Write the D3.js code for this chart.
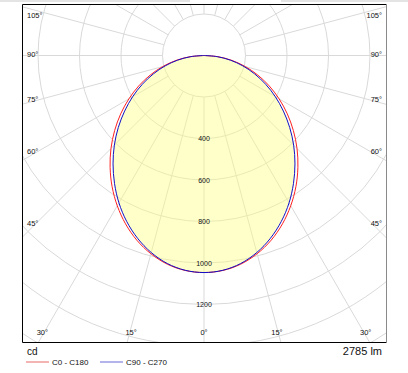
<!DOCTYPE html>
<html>
<head>
<meta charset="utf-8">
<script src="https://cdn.jsdelivr.net/npm/d3@7"></script>
<style>
  body { margin: 0; background: #fff; }
  text { font-family: "Liberation Sans", Arial, sans-serif; fill: #111; }
</style>
</head>
<body>
<div id="chart"></div>
<script>
// gamma angles (deg) and intensities (cd), symmetric halves
var gammas = [0, 5, 10, 15, 20, 25, 30, 35, 40, 45, 50, 55, 60, 65, 70, 75, 80, 85, 90];
var c0c180 = [1046, 1040, 1021, 989, 947, 895, 836, 772, 704, 634, 562, 490, 418, 347, 276, 206, 137, 68, 0];
var c90c270 = [1046, 1039, 1018, 983, 937, 882, 820, 752, 682, 611, 539, 467, 397, 328, 260, 194, 129, 64, 0];
var rings = [200, 400, 600, 800, 1000, 1200, 1400, 1600, 1800];
var ringLabels = [400, 600, 800, 1000, 1200];
var angleLabels = [0, 15, 30, 45, 60, 75, 90, 105];
var flux = "2785 lm";

var width = 408, height = 373;
var cx = 204, cy = 55.5;
var frame = { x0: 22.5, y0: 4.5, x1: 386.5, y1: 342.5 };

var svg = d3.select("#chart").append("svg")
  .attr("width", width)
  .attr("height", height);

// grey strip at top
svg.append("rect").attr("x", 0).attr("y", 0).attr("width", 190).attr("height", 2).attr("fill", "#e4e4e4");
svg.append("rect").attr("x", 281).attr("y", 0).attr("width", 127).attr("height", 2).attr("fill", "#e4e4e4");

svg.append("clipPath").attr("id", "clip")
  .append("rect")
  .attr("x", frame.x0).attr("y", frame.y0)
  .attr("width", frame.x1 - frame.x0).attr("height", frame.y1 - frame.y0);

var r = d3.scaleLinear().domain([0, 200]).range([0, 41.5]);

var g = svg.append("g").attr("clip-path", "url(#clip)");
var polar = g.append("g").attr("transform", "translate(" + cx + "," + cy + ")");

// circles
polar.selectAll("circle.ring")
  .data(rings)
  .enter().append("circle")
  .attr("class", "ring")
  .attr("r", function (d) { return r(d); })
  .attr("fill", "none")
  .attr("stroke", "#d9d9d9")
  .attr("stroke-width", 1);

// radial lines every 15 degrees, starting at first ring
var spokes = d3.range(0, 360, 15);
polar.selectAll("line.spoke")
  .data(spokes)
  .enter().append("line")
  .attr("class", "spoke")
  .attr("x1", function (d) { return r(200) * Math.sin(d * Math.PI / 180); })
  .attr("y1", function (d) { return r(200) * Math.cos(d * Math.PI / 180); })
  .attr("x2", function (d) { return r(2000) * Math.sin(d * Math.PI / 180); })
  .attr("y2", function (d) { return r(2000) * Math.cos(d * Math.PI / 180); })
  .attr("stroke", "#d9d9d9")
  .attr("stroke-width", 1);

// build closed curve: left half (90 -> 0) then right half (5 -> 90)
function curvePoints(vals) {
  var pts = [];
  for (var i = gammas.length - 1; i >= 0; i--) {
    pts.push([Math.PI + gammas[i] * Math.PI / 180, r(vals[i])]);
  }
  for (var j = 1; j < gammas.length; j++) {
    pts.push([Math.PI - gammas[j] * Math.PI / 180, r(vals[j])]);
  }
  return pts;
}

var radial = d3.lineRadial()
  .angle(function (d) { return d[0]; })
  .radius(function (d) { return d[1]; })
  .curve(d3.curveCardinal);

polar.append("path")
  .attr("d", radial(curvePoints(c90c270)))
  .attr("fill", "#ffff80")
  .attr("fill-opacity", 0.42)
  .attr("stroke", "none");

polar.append("path")
  .attr("d", radial(curvePoints(c0c180)))
  .attr("fill", "none")
  .attr("stroke", "#ff2020")
  .attr("stroke-width", 1);

polar.append("path")
  .attr("d", radial(curvePoints(c90c270)))
  .attr("fill", "none")
  .attr("stroke", "#1010c8")
  .attr("stroke-width", 1);

// ring value labels
polar.selectAll("text.val")
  .data(ringLabels)
  .enter().append("text")
  .attr("class", "val")
  .attr("x", 0)
  .attr("y", function (d) { return r(d); })
  .attr("text-anchor", "middle")
  .attr("dominant-baseline", "central")
  .style("font-size", "7px")
  .text(function (d) { return d; });

// frame
svg.append("line").attr("x1", frame.x0).attr("y1", frame.y0).attr("x2", frame.x1).attr("y2", frame.y0).attr("stroke", "#000");
svg.append("line").attr("x1", frame.x0).attr("y1", frame.y0).attr("x2", frame.x0).attr("y2", frame.y1).attr("stroke", "#000");
svg.append("line").attr("x1", frame.x0).attr("y1", frame.y1).attr("x2", frame.x1).attr("y2", frame.y1).attr("stroke", "#000");
svg.append("line").attr("x1", frame.x1).attr("y1", frame.y0).attr("x2", frame.x1).attr("y2", frame.y1).attr("stroke", "#8a8a8a");

// angle labels where spokes meet the frame
var labelData = [];
angleLabels.forEach(function (a) {
  var sides = a === 0 ? [0] : [-1, 1];
  sides.forEach(function (s) { labelData.push({ a: a, s: s }); });
});

labelData.forEach(function (d) {
  var rad = d.a * Math.PI / 180;
  var sn = Math.sin(rad), cs = Math.cos(rad);
  var tSide = sn > 1e-6 ? 169 / sn : Infinity;
  var tBottom = cs > 1e-6 ? (frame.y1 - cy) / cs : Infinity;
  var x, y, anchor;
  if (tBottom < tSide) {
    x = cx + d.s * sn * tBottom - d.s * 4;
    y = 332;
    anchor = "middle";
  } else {
    x = d.s < 0 ? 27 : 382;
    y = Math.max(15, cy + cs * tSide - 1.5);
    anchor = d.s < 0 ? "start" : "end";
  }
  svg.append("text")
    .attr("x", x).attr("y", y)
    .attr("text-anchor", anchor)
    .attr("dominant-baseline", "central")
    .style("font-size", "7.5px")
    .text(d.a + "\u00b0");
});

// bottom texts
svg.append("text").attr("x", 27).attr("y", 351).attr("dominant-baseline", "central")
  .style("font-size", "10px").text("cd");
svg.append("text").attr("x", 382).attr("y", 351).attr("dominant-baseline", "central")
  .attr("text-anchor", "end").style("font-size", "11px").text(flux);

var legend = [
  { name: "C0 - C180", color: "#f4b4b4", x: 26 },
  { name: "C90 - C270", color: "#b4b4ea", x: 100 }
];
legend.forEach(function (d) {
  svg.append("line").attr("x1", d.x).attr("x2", d.x + 23).attr("y1", 362).attr("y2", 362)
    .attr("stroke", d.color).attr("stroke-width", 2);
  svg.append("text").attr("x", d.x + 26).attr("y", 362).attr("dominant-baseline", "central")
    .style("font-size", "8px").text(d.name);
});
</script>
</body>
</html>
